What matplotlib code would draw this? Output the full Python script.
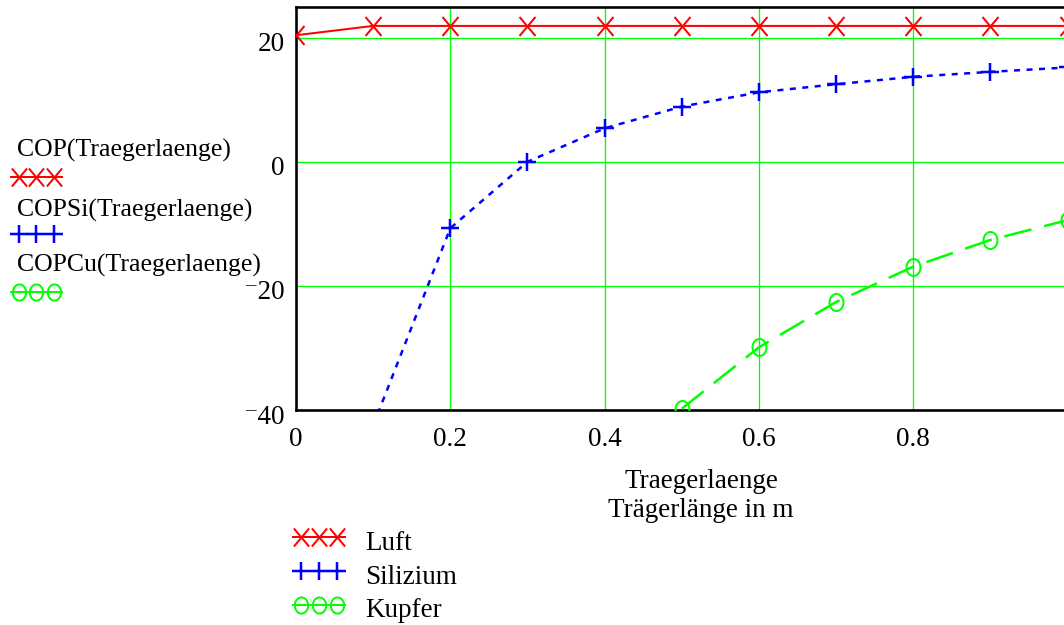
import numpy as np
import matplotlib
matplotlib.use("Agg")
import matplotlib.pyplot as plt
from matplotlib.path import Path
import matplotlib.transforms as mtransforms

# ---- data -------------------------------------------------------------
length_air = [0.0, 0.1, 0.2, 0.3, 0.4, 0.5, 0.6, 0.7, 0.8, 0.9, 1.0]
cop_air = [20.4, 21.9, 21.9, 21.9, 21.9, 21.9, 21.9, 21.9, 21.9, 21.9, 21.9]

length_si = [0.1, 0.2, 0.3, 0.4, 0.5, 0.6, 0.7, 0.8, 0.9, 1.0]
cop_si = [-42.5, -10.7, 0.0, 5.4, 8.9, 11.2, 12.5, 13.7, 14.5, 15.2]

length_cu = [0.5, 0.6, 0.7, 0.8, 0.9, 1.0]
cop_cu = [-39.8, -29.9, -22.6, -16.9, -12.6, -9.4]

x_ticks = [0.0, 0.2, 0.4, 0.6, 0.8]
x_tick_labels = ["0", "0.2", "0.4", "0.6", "0.8"]
y_ticks = [-40, -20, 0, 20]
y_tick_labels = ["\u207b40", "\u207b20", "0", "20"]

series_names = ["Luft", "Silizium", "Kupfer"]
expr_names = ["COP(Traegerlaenge)", "COPSi(Traegerlaenge)", "COPCu(Traegerlaenge)"]
x_label_lines = ["Traegerlaenge", "Trägerlänge in m"]

# ---- style ------------------------------------------------------------
plt.rcParams["font.family"] = ["Liberation Serif", "DejaVu Serif"]
plt.rcParams["lines.scale_dashes"] = False
FS = 19.5
PX = 0.72  # points per pixel at 100 dpi

RED, BLUE, GREEN = "#ff0000", "#0000ff", "#00ff00"


def ellipse_marker(aspect):
    t = np.linspace(0, 2 * np.pi, 73)
    return Path(np.column_stack([aspect * np.cos(t), np.sin(t)]))


def cross_marker(aspect):
    verts = [(-aspect, -1), (aspect, 1), (-aspect, 1), (aspect, -1)]
    codes = [Path.MOVETO, Path.LINETO, Path.MOVETO, Path.LINETO]
    return Path(verts, codes)


X_MARK = cross_marker(0.84)
O_MARK = ellipse_marker(0.82)

styles = [
    dict(color=RED, lw=2.0 * PX, ls="-", marker=X_MARK, ms=19 * PX, mew=2.0 * PX),
    dict(color=BLUE, lw=2.5 * PX, ls=(0, (6 * PX, 6.5 * PX)), marker="+",
         ms=18 * PX, mew=2.5 * PX),
    dict(color=GREEN, lw=2.5 * PX, ls=(0, (28 * PX, 13 * PX)), marker=O_MARK,
         ms=17 * PX, mew=2.0 * PX),
]

W, H = 1064, 625
fig = plt.figure(figsize=(W / 100, H / 100), dpi=100)

# pixel-space overlay for the legends and the axis caption
ov = fig.add_axes([0, 0, 1, 1])
ov.set_xlim(0, W)
ov.set_ylim(H, 0)
ov.axis("off")
ov.patch.set_alpha(0)

# ---- main plot --------------------------------------------------------
left_px, right_px, top_px, bottom_px = 296, 1067.5, 7.3, 410
ax = fig.add_axes([left_px / W, 1 - bottom_px / H,
                   (right_px - left_px) / W, (bottom_px - top_px) / H])
ax.set_xlim(0, 1.0)
ax.set_ylim(-40, 24.9)

for xs, ys, st in zip([length_air, length_si, length_cu],
                      [cop_air, cop_si, cop_cu], styles):
    ax.plot(xs, ys, color=st["color"], lw=st["lw"], ls=st["ls"],
            marker=st["marker"], ms=st["ms"], mew=st["mew"], mfc="none",
            mec=st["color"], zorder=3)

ax.set_xticks(x_ticks)
ax.set_xticklabels(x_tick_labels)
ax.set_yticks(y_ticks)
ax.set_yticklabels(y_tick_labels)
ax.grid(True, color=GREEN, lw=1.3 * PX, zorder=1)
ax.set_axisbelow(True)
ax.tick_params(length=0, labelsize=FS)
ax.tick_params(axis="x", pad=12)
ax.tick_params(axis="y", pad=8)
down = mtransforms.ScaledTranslation(0, -4 / 100, fig.dpi_scale_trans)
for lab in ax.get_yticklabels():
    lab.set_transform(lab.get_transform() + down)

for side in ["left", "bottom", "top"]:
    ax.spines[side].set_linewidth(2.6 * PX)
    ax.spines[side].set_color("black")
ax.spines["right"].set_visible(False)

# ---- axis caption -----------------------------------------------------
ov.text(701, 488, x_label_lines[0], fontsize=FS, ha="center", va="baseline")
ov.text(701, 517, x_label_lines[1], fontsize=FS, ha="center", va="baseline")


def legend_sample(x0, x1, y, st, centers, scale=1.0):
    ov.plot([x0, x1], [y, y], color=st["color"], lw=2.0 * PX)
    ov.plot(centers, [y] * len(centers), ls="none", marker=st["marker"],
            ms=st["ms"] * scale, mew=st["mew"], mfc="none", mec=st["color"])


# ---- left legend (expression names) -----------------------------------
for name, base, y, st in zip(expr_names, [156.7, 216.7, 271.7],
                             [177, 234, 292], styles):
    ov.text(16.7, base, name, fontsize=18.5, ha="left", va="baseline")
    legend_sample(11, 62, y, st, [18.5, 36, 53.5], scale=0.95)

# ---- bottom legend (material names) -----------------------------------
for st, y, name, base in zip(styles, [537, 571, 605], series_names,
                             [550, 583.5, 616.7]):
    legend_sample(293, 345, y, st, [301, 319, 337], scale=0.95)
    ov.text(365, base, name, fontsize=FS, ha="left", va="baseline")

fig.savefig("out.png", dpi=100)
